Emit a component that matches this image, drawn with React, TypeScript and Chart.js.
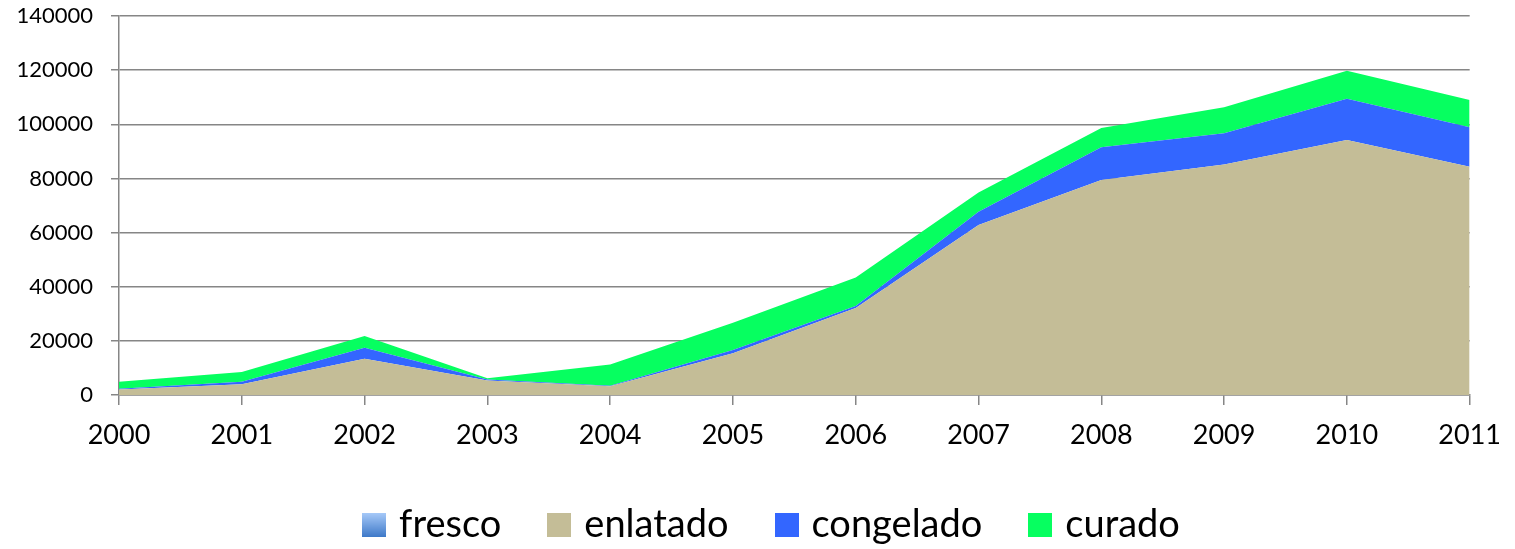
import React, { useEffect, useRef } from "react";
import { Chart, registerables } from "chart.js";

Chart.register(...registerables);

const years = ["2000", "2001", "2002", "2003", "2004", "2005", "2006", "2007", "2008", "2009", "2010", "2011"];
const fresco = [0, 0, 0, 0, 0, 0, 0, 0, 0, 0, 0, 0];
const enlatado = [2000, 4000, 13400, 5400, 3200, 15400, 32100, 62800, 79400, 85100, 94200, 84300];
const congelado = [300, 900, 4100, 300, 200, 1200, 800, 4900, 12100, 11600, 15200, 14600];
const curado = [2600, 3600, 4300, 500, 7900, 10100, 10500, 7100, 7100, 9600, 10400, 10100];
const yTicks = [0, 20000, 40000, 60000, 80000, 100000, 120000, 140000];

const seriesNames = ["fresco", "enlatado", "congelado", "curado"];
const seriesColors = ["#7FA9E8", "#C4BD97", "#3366FF", "#06FF60"];

const FONT = "Lato";

function makeSwatch(i: number): HTMLCanvasElement {
  const c = document.createElement("canvas");
  c.width = 24;
  c.height = 24;
  const ctx = c.getContext("2d")!;
  if (i === 0) {
    const g = ctx.createLinearGradient(0, 0, 0, 24);
    g.addColorStop(0, "#A6C9F8");
    g.addColorStop(1, "#3E79C8");
    ctx.fillStyle = g;
  } else {
    ctx.fillStyle = seriesColors[i];
  }
  ctx.fillRect(0, 0, 24, 24);
  return c;
}

const shiftLegend = {
  id: "shiftLegend",
  afterLayout(chart: any) {
    if (chart.legend) {
      chart.legend.left += 38;
      chart.legend.right += 38;
    }
  },
};

export default function App() {
  const ref = useRef<HTMLCanvasElement>(null);

  useEffect(() => {
    if (!ref.current) return;
    const swatches = seriesNames.map((_, i) => makeSwatch(i));
    const ctx = ref.current.getContext("2d")!;
    const frescoGrad = ctx.createLinearGradient(0, 16, 0, 395);
    frescoGrad.addColorStop(0, "#A6C9F8");
    frescoGrad.addColorStop(1, "#3E79C8");

    const data = [fresco, enlatado, congelado, curado];
    const chart = new Chart(ref.current, {
      type: "line",
      plugins: [shiftLegend],
      data: {
        labels: years,
        datasets: data.map((d, i) => ({
          label: seriesNames[i],
          data: d,
          backgroundColor: i === 0 ? frescoGrad : seriesColors[i],
          borderColor: "rgba(0,0,0,0)",
          borderWidth: 0,
          pointRadius: 0,
          pointHoverRadius: 0,
          tension: 0,
          fill: i === 0 ? "origin" : "-1",
        })),
      },
      options: {
        responsive: false,
        animation: false,
        layout: { padding: { top: 16, right: 43, left: 0, bottom: -5 } },
        plugins: {
          tooltip: { enabled: false },
          legend: {
            position: "bottom",
            labels: {
              usePointStyle: true,
              pointStyleWidth: 12,
              padding: 52,
              color: "#000",
              font: { family: FONT, size: 38 },
              generateLabels: (c: any) =>
                c.data.datasets.map((ds: any, i: number) => ({
                  text: ds.label,
                  pointStyle: swatches[i],
                  fillStyle: seriesColors[i],
                  strokeStyle: "rgba(0,0,0,0)",
                  lineWidth: 0,
                  hidden: false,
                  datasetIndex: i,
                })),
            },
          },
        },
        scales: {
          x: {
            type: "category",
            offset: false,
            grid: {
              drawOnChartArea: false,
              drawTicks: true,
              tickLength: 10,
              color: "#868686",
              lineWidth: 1.5,
            },
            border: { display: true, color: "#868686", width: 1.5 },
            ticks: {
              autoSkip: false,
              maxRotation: 0,
              padding: 14,
              color: "#000",
              font: { family: FONT, size: 27 },
            },
            afterFit: (s: any) => {
              s.height = 59;
            },
          },
          y: {
            stacked: true,
            min: 0,
            max: 140000,
            afterBuildTicks: (s: any) => {
              s.ticks = yTicks.map((v) => ({ value: v }));
            },
            grid: {
              color: "#868686",
              lineWidth: 1.5,
              tickLength: 8,
            },
            border: { display: true, color: "#868686", width: 1.5 },
            ticks: {
              padding: 18,
              color: "#000",
              font: { family: FONT, size: 22 },
              callback: (v: any) => String(v),
            },
            afterFit: (s: any) => {
              s.width = 119;
              s.paddingTop = 0;
              s.paddingBottom = 0;
            },
          },
        },
      },
    });
    return () => chart.destroy();
  }, []);

  return (
    <div style={{ position: "absolute", left: 0, top: 0, width: 1515, height: 549 }}>
      <canvas ref={ref} width={1515} height={549} style={{ display: "block" }} />
    </div>
  );
}
